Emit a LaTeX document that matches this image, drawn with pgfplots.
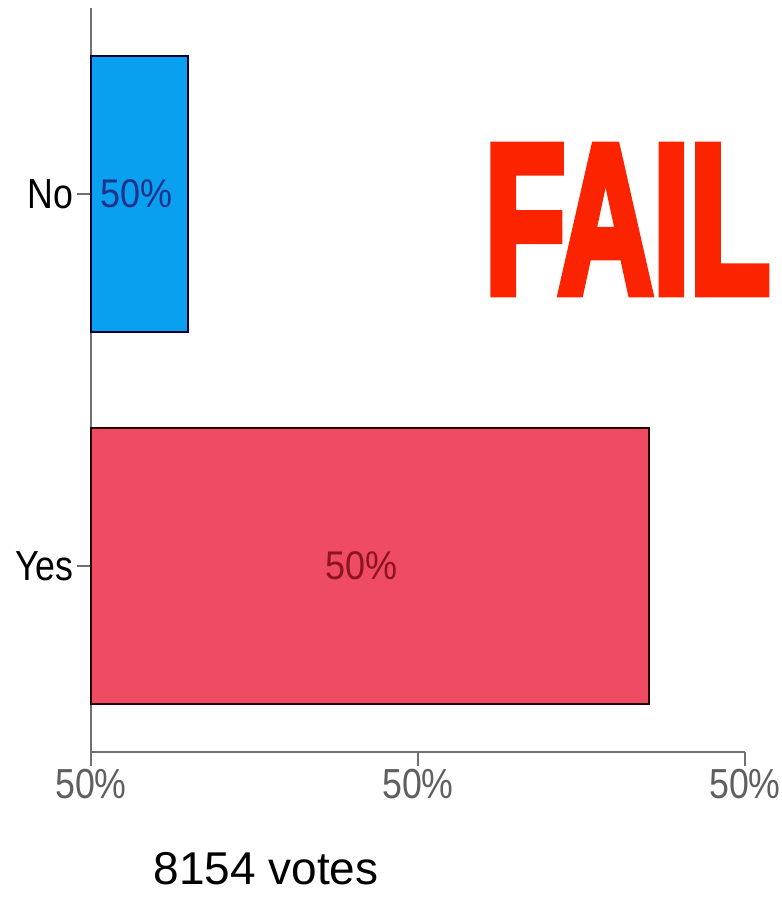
\documentclass[border=0pt]{standalone}
\usepackage{graphicx}
\usepackage{fontspec}
\setmainfont{Liberation Sans}
\newfontfamily\failfont[FakeBold=5]{Liberation Sans Bold}
\usepackage{pgfplots}
\pgfplotsset{compat=1.18}
\definecolor{barblue}{RGB}{10,160,240}
\definecolor{barred}{RGB}{240,75,100}
\definecolor{failred}{RGB}{252,36,0}
\definecolor{axgray}{RGB}{112,112,112}
\definecolor{ticktext}{RGB}{95,95,95}
\definecolor{bluelab}{RGB}{30,50,140}
\definecolor{redlab}{RGB}{140,20,30}
\begin{document}
\begin{tikzpicture}
\path[use as bounding box] (0,0) rectangle (782pt,898pt);
\begin{axis}[
  at={(91pt,146pt)}, anchor=south west,
  scale only axis, width=654pt, height=744pt,
  xmin=0, xmax=100, ymin=-0.5, ymax=1.5,
  xbar, bar width=0.74,
  axis x line=bottom, axis y line=left,
  axis line style={-, draw=axgray, line width=1.5pt},
  xtick={0,50,100},
  xticklabels={\scalebox{0.85}[1]{50\%},\scalebox{0.85}[1]{50\%},\scalebox{0.85}[1]{50\%}},
  ytick={0,1}, yticklabels={\scalebox{0.85}[1]{Yes},\scalebox{0.85}[1]{No}},
  tick align=outside, major tick length=14pt,
  tick style={draw=axgray, line width=1.5pt},
  xticklabel style={font=\fontsize{42}{48}\selectfont, text=ticktext},
  yticklabel style={font=\fontsize{42}{48}\selectfont, text=black},
  clip=false,
]
\addplot[bar shift=0pt, fill=barblue, draw=black!80!blue, line width=2pt] coordinates {(14.8,1)};
\addplot[bar shift=0pt, fill=barred, draw=black!85!red, line width=2pt] coordinates {(85.3,0)};
\node[text=bluelab, font=\fontsize{40}{46}\selectfont] at (axis cs:7.0,1) {\scalebox{0.9}[1]{50\%}};
\node[text=redlab, font=\fontsize{40}{46}\selectfont] at (axis cs:41.4,0) {\scalebox{0.9}[1]{50\%}};
\end{axis}
\node[font=\fontsize{46}{52}\selectfont, text=black] at (266pt,29pt) {8154 votes};
\node[text=failred, inner sep=0pt] at (627.5pt,678.5pt) {\resizebox{285pt}{145pt}{\failfont FAIL}};
\end{tikzpicture}
\end{document}
